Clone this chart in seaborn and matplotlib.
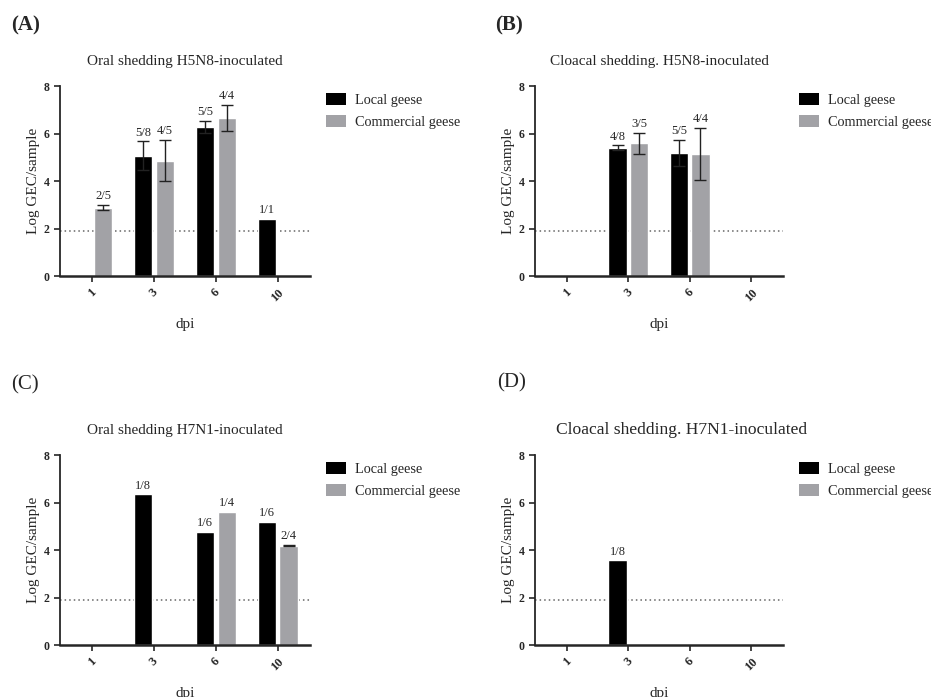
import numpy as np
import pandas as pd
import matplotlib
matplotlib.use('Agg')
import matplotlib.pyplot as plt
from matplotlib.patches import Patch
import seaborn as sns

sns.set_theme(style='ticks')
plt.rcParams['font.family'] = ['Liberation Serif', 'DejaVu Serif']

nan = np.nan

# x categories and groups
dpi = ['1', '3', '6', '10']
groups = ['Local geese', 'Commercial geese']
colors = ['#000000', '#a2a2a6']
detect_limit = 1.9

# (A) Oral shedding, H5N8
a_local = [nan, 5.07, 6.29, 2.41]
a_local_err = [nan, 0.60, 0.25, 0.0]
a_local_n = ['', '5/8', '5/5', '1/1']
a_comm = [2.88, 4.86, 6.65, nan]
a_comm_err = [0.10, 0.87, 0.55, nan]
a_comm_n = ['2/5', '4/5', '4/4', '']

# (B) Cloacal shedding, H5N8
b_local = [nan, 5.40, 5.17, nan]
b_local_err = [nan, 0.10, 0.55, nan]
b_local_n = ['', '4/8', '5/5', '']
b_comm = [nan, 5.59, 5.14, nan]
b_comm_err = [nan, 0.45, 1.10, nan]
b_comm_n = ['', '3/5', '4/4', '']

# (C) Oral shedding, H7N1
c_local = [nan, 6.34, 4.75, 5.20]
c_local_err = [nan, 0.0, 0.0, 0.0]
c_local_n = ['', '1/8', '1/6', '1/6']
c_comm = [nan, nan, 5.61, 4.18]
c_comm_err = [nan, nan, 0.0, 0.02]
c_comm_n = ['', '', '1/4', '2/4']

# (D) Cloacal shedding, H7N1
d_local = [nan, 3.56, nan, nan]
d_local_err = [nan, 0.0, nan, nan]
d_local_n = ['', '1/8', '', '']
d_comm = [nan, nan, nan, nan]
d_comm_err = [nan, nan, nan, nan]
d_comm_n = ['', '', '', '']

panels = [
    ('(A)', 'Oral shedding H5N8-inoculated', a_local, a_local_err, a_local_n, a_comm, a_comm_err, a_comm_n),
    ('(B)', 'Cloacal shedding. H5N8-inoculated', b_local, b_local_err, b_local_n, b_comm, b_comm_err, b_comm_n),
    ('(C)', 'Oral shedding H7N1-inoculated', c_local, c_local_err, c_local_n, c_comm, c_comm_err, c_comm_n),
    ('(D)', 'Cloacal shedding. H7N1-inoculated', d_local, d_local_err, d_local_n, d_comm, d_comm_err, d_comm_n),
]

fig = plt.figure(figsize=(9.31, 6.97), dpi=100)

ax_rects = [
    [0.0644, 0.604, 0.2685, 0.2726],
    [0.5747, 0.604, 0.2664, 0.2726],
    [0.0644, 0.0746, 0.2685, 0.2726],
    [0.5747, 0.0746, 0.2664, 0.2726],
]
letter_pos = [(0.012, 0.964), (0.532, 0.964), (0.012, 0.448), (0.534, 0.451)]
letter_weight = ['bold', 'bold', 'normal', 'normal']
title_size = [11, 11, 11, 12.6]
title_x = [0.5, 0.5, 0.5, 0.59]

for i, (letter, title, loc, loc_err, loc_n, com, com_err, com_n) in enumerate(panels):
    ax = fig.add_axes(ax_rects[i])
    df = pd.DataFrame({
        'dpi': dpi * 2,
        'group': [groups[0]] * 4 + [groups[1]] * 4,
        'value': loc + com,
        'err': loc_err + com_err,
        'n': loc_n + com_n,
    })
    ax.axhline(detect_limit, ls=(0, (1, 2)), color='#666666', lw=1.1, zorder=0)
    sns.barplot(data=df, x='dpi', y='value', hue='group', order=dpi, hue_order=groups,
                palette=colors, width=0.7, gap=0.15, errorbar=None, legend=False,
                saturation=1, ax=ax, zorder=2)

    # error bars and n/N labels, placed on the drawn bars
    for p in ax.patches:
        h = p.get_height()
        if not np.isfinite(h) or h == 0:
            continue
        cx = p.get_x() + p.get_width() / 2
        ci = int(round(cx))
        gi = 0 if cx < ci else 1
        row = df[(df['dpi'] == dpi[ci]) & (df['group'] == groups[gi])].iloc[0]
        e = row['err'] if np.isfinite(row['err']) else 0
        if e > 0:
            ax.errorbar(cx, h, yerr=e, color='#222222', lw=1.0, capsize=4.5,
                        capthick=1.0, zorder=3)
        ax.annotate(row['n'], (cx, h + e), xytext=(0, 2), textcoords='offset points',
                    ha='center', va='bottom', fontsize=9)

    ax.set_xlim(-0.52, 3.52)
    ax.set_ylim(0, 8)
    ax.set_yticks([0, 2, 4, 6, 8])
    ax.set_xlabel('dpi', fontsize=11, labelpad=10)
    ax.set_ylabel('Log GEC/sample', fontsize=11, labelpad=2.5)
    ax.set_title(title, fontsize=title_size[i], pad=15, x=title_x[i])
    ax.tick_params(axis='y', labelsize=8.5, length=4, width=1.2, direction='out')
    ax.tick_params(axis='x', labelsize=9, length=4, width=1.2, direction='out')
    for lab in ax.get_yticklabels():
        lab.set_fontweight('bold')
    for lab in ax.get_xticklabels():
        lab.set_fontweight('bold')
        lab.set_rotation(45)
        lab.set_ha('center')
        lab.set_va('top')
    sns.despine(ax=ax)
    ax.spines['left'].set_linewidth(1.3)
    ax.spines['bottom'].set_linewidth(1.8)

    handles = [Patch(facecolor=c, edgecolor='none') for c in colors]
    ax.legend(handles, groups, loc='upper left', bbox_to_anchor=(1.04, 0.995),
              frameon=False, fontsize=10.3, handlelength=1.45, handleheight=0.95,
              handletextpad=0.6, labelspacing=0.55, borderaxespad=0)

    fig.text(letter_pos[i][0], letter_pos[i][1], letter, fontsize=15,
             fontweight=letter_weight[i], va='center')

fig.savefig('out.png', dpi=100)
